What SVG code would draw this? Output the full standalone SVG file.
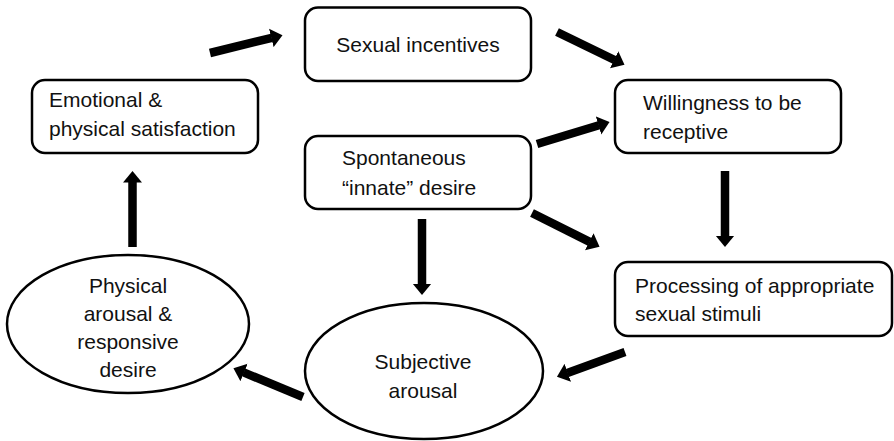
<svg xmlns="http://www.w3.org/2000/svg" width="894" height="441" viewBox="0 0 894 441">
  <style>
    .box { fill: #ffffff; stroke: #000000; stroke-width: 2.5; }
    .lbl { font-family: "Liberation Sans", Arial, sans-serif; font-size: 21px; fill: #111111; }
    .mid { text-anchor: middle; }
    .arr { stroke: #000000; stroke-width: 8.5; fill: none; marker-end: url(#head); }
  </style>
  <defs>
    <marker id="head" markerUnits="userSpaceOnUse" markerWidth="12" markerHeight="20" refX="0.5" refY="10" orient="auto">
      <path d="M0,0.5 L11.5,10 L0,19.5 Z" fill="#000000"/>
    </marker>
  </defs>
  <rect width="894" height="441" fill="#ffffff"/>

  <!-- connectors -->
  <g id="connectors">
    <line class="arr" x1="210" y1="53" x2="271.8" y2="37.8"/>
    <line class="arr" x1="557" y1="32" x2="614.6" y2="60"/>
    <line class="arr" x1="537" y1="144" x2="599" y2="125.3"/>
    <line class="arr" x1="532" y1="213" x2="589.7" y2="241.9"/>
    <line class="arr" x1="422" y1="219" x2="422" y2="284"/>
    <line class="arr" x1="725" y1="171" x2="725" y2="236"/>
    <line class="arr" x1="625" y1="352" x2="567.3" y2="372.9"/>
    <line class="arr" x1="303" y1="397" x2="243.6" y2="372.4"/>
    <line class="arr" x1="132.5" y1="247" x2="132.5" y2="182"/>
  </g>

  <g id="sexual-incentives">
    <rect class="box" x="305" y="7.5" width="226" height="73.5" rx="13"/>
    <text class="lbl mid" x="418" y="52">Sexual incentives</text>
  </g>

  <g id="emotional-physical-satisfaction">
    <rect class="box" x="32" y="80" width="226" height="73" rx="13"/>
    <text class="lbl" x="49" y="107">Emotional &amp;</text>
    <text class="lbl" x="49" y="136">physical satisfaction</text>
  </g>

  <g id="willingness">
    <rect class="box" x="615" y="80" width="226" height="73" rx="13"/>
    <text class="lbl" x="643" y="110">Willingness to be</text>
    <text class="lbl" x="643" y="139">receptive</text>
  </g>

  <g id="spontaneous-desire">
    <rect class="box" x="305" y="136" width="226" height="73" rx="13"/>
    <text class="lbl" x="342" y="165">Spontaneous</text>
    <text class="lbl" x="342" y="195">“innate” desire</text>
  </g>

  <g id="processing-stimuli">
    <rect class="box" x="615" y="262" width="277" height="74" rx="13"/>
    <text class="lbl" x="635" y="293">Processing of appropriate</text>
    <text class="lbl" x="635" y="321">sexual stimuli</text>
  </g>

  <g id="subjective-arousal">
    <ellipse class="box" cx="424" cy="371" rx="119" ry="68"/>
    <text class="lbl mid" x="423" y="369">Subjective</text>
    <text class="lbl mid" x="423" y="398">arousal</text>
  </g>

  <g id="physical-arousal">
    <ellipse class="box" cx="128" cy="324" rx="121" ry="69"/>
    <text class="lbl mid" x="128" y="293">Physical</text>
    <text class="lbl mid" x="128" y="321">arousal &amp;</text>
    <text class="lbl mid" x="128" y="349">responsive</text>
    <text class="lbl mid" x="128" y="377">desire</text>
  </g>
</svg>
